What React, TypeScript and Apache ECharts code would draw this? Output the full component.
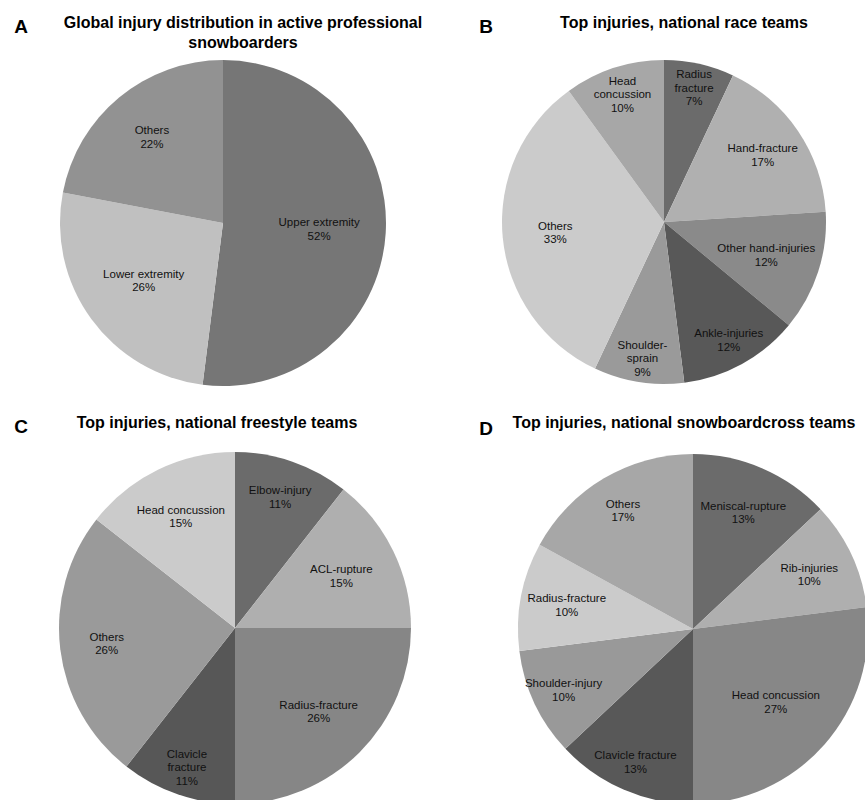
import React, { useEffect, useRef } from "react";
import * as echarts from "echarts";

// ---- Data ----
const panelLetters = ["A", "B", "C", "D"];
const panelTitles = [
  ["Global injury distribution in active professional", "snowboarders"],
  ["Top injuries, national race teams"],
  ["Top injuries, national freestyle teams"],
  ["Top injuries, national snowboardcross teams"],
];

const aNames = ["Upper extremity", "Lower extremity", "Others"];
const aValues = [52, 26, 22];

const bNames = [
  "Radius\nfracture",
  "Hand-fracture",
  "Other hand-injuries",
  "Ankle-injuries",
  "Shoulder-\nsprain",
  "Others",
  "Head\nconcussion",
];
const bValues = [7, 17, 12, 12, 9, 33, 10];

const cNames = [
  "Elbow-injury",
  "ACL-rupture",
  "Radius-fracture",
  "Clavicle\nfracture",
  "Others",
  "Head concussion",
];
const cValues = [11, 15, 26, 11, 26, 15];

const dNames = [
  "Meniscal-rupture",
  "Rib-injuries",
  "Head concussion",
  "Clavicle fracture",
  "Shoulder-injury",
  "Radius-fracture",
  "Others",
];
const dValues = [13, 10, 27, 13, 10, 10, 17];

// ---- Layout / style ----
const FONT = "'Liberation Sans', Arial, Helvetica, sans-serif";
const panels = [
  {
    names: aNames, values: aValues,
    cx: 223, cy: 223, r: 163,
    titleX: 243, titleY: 22, letterX: 21, letterY: 26,
    colors: ["#767676", "#c0c0c0", "#929292"],
    k: [0.57, 0.58, 0.66],
  },
  {
    names: bNames, values: bValues,
    cx: 664, cy: 222, r: 162,
    titleX: 684, titleY: 22, letterX: 486, letterY: 26,
    colors: ["#6b6b6b", "#b0b0b0", "#8a8a8a", "#585858", "#9a9a9a", "#cbcbcb", "#a7a7a7"],
    k: [0.82, 0.71, 0.64, 0.8, 0.82, 0.65, 0.8],
  },
  {
    names: cNames, values: cValues,
    cx: 235, cy: 628, r: 176,
    titleX: 217, titleY: 422, letterX: 21, letterY: 426,
    colors: ["#6b6b6b", "#afafaf", "#868686", "#575757", "#9a9a9a", "#cbcbcb"],
    k: [0.76, 0.65, 0.65, 0.81, 0.71, 0.68],
  },
  {
    names: dNames, values: dValues,
    cx: 693, cy: 629, r: 175,
    titleX: 684, titleY: 422, letterX: 486, letterY: 428,
    colors: ["#6b6b6b", "#afafaf", "#878787", "#585858", "#999999", "#cbcbcb", "#a7a7a7"],
    k: [0.7, 0.71, 0.61, 0.8, 0.79, 0.71, 0.76],
  },
];

export default function App() {
  const ref = useRef<HTMLDivElement>(null);

  useEffect(() => {
    if (!ref.current) return;
    const chart = echarts.init(ref.current, undefined, { renderer: "svg" });

    const graphics: any[] = [];
    panels.forEach((p, i) => {
      graphics.push({
        type: "text",
        x: p.letterX,
        y: p.letterY,
        silent: true,
        style: {
          text: panelLetters[i],
          font: `bold 19px ${FONT}`,
          fill: "#000",
          align: "center",
          textAlign: "center",
          verticalAlign: "middle",
          textVerticalAlign: "middle",
        },
      });
      panelTitles[i].forEach((line, j) => {
        graphics.push({
          type: "text",
          x: p.titleX,
          y: p.titleY + j * 20,
          silent: true,
          style: {
            text: line,
            font: `bold 16px ${FONT}`,
            fill: "#000",
            align: "center",
            textAlign: "center",
            verticalAlign: "middle",
            textVerticalAlign: "middle",
          },
        });
      });
    });

    const series = panels.map((p) => ({
      type: "pie",
      center: [p.cx, p.cy],
      radius: p.r,
      startAngle: 90,
      clockwise: true,
      avoidLabelOverlap: false,
      silent: true,
      emphasis: { disabled: true },
      itemStyle: { borderWidth: 0 },
      label: {
        show: true,
        position: "inside",
        formatter: "{b}\n{c}%",
        fontFamily: FONT,
        fontSize: 11.5,
        lineHeight: 13.5,
        color: "#111",
        align: "center",
      },
      labelLine: { show: false },
      labelLayout: (params: any) => {
        const k = p.k[params.dataIndex] / 0.5;
        const lr = params.labelRect;
        const lx = lr.x + lr.width / 2;
        const ly = lr.y + lr.height / 2;
        return {
          x: p.cx + (lx - p.cx) * k,
          y: p.cy + (ly - p.cy) * k,
          align: "center",
          verticalAlign: "middle",
        };
      },
      data: p.names.map((n, i) => ({
        name: n,
        value: p.values[i],
        itemStyle: { color: p.colors[i] },
      })),
    }));

    chart.setOption({
      animation: false,
      backgroundColor: "#ffffff",
      graphic: { elements: graphics },
      series,
    } as any);

    return () => chart.dispose();
  }, []);

  return (
    <div
      ref={ref}
      style={{ position: "fixed", left: 0, top: 0, width: 865, height: 800 }}
    />
  );
}
